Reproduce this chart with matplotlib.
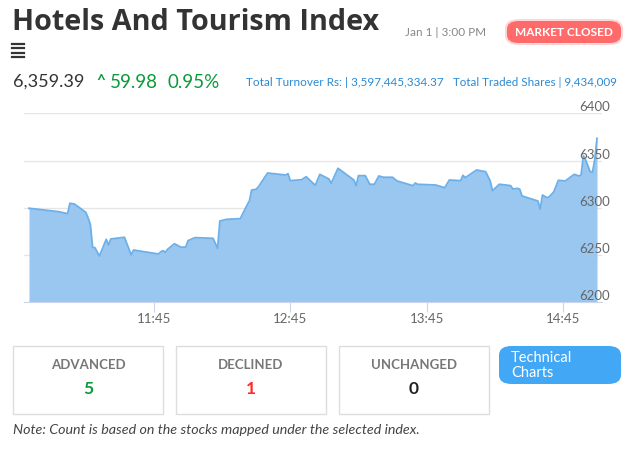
import matplotlib
matplotlib.use("Agg")
import matplotlib.pyplot as plt
import numpy as np
from matplotlib.patches import FancyBboxPatch, Rectangle
from matplotlib.lines import Line2D
import matplotlib.transforms as mtransforms

plt.rcParams['font.family'] = ['Lato', 'DejaVu Sans']

# intraday index values (time, value)
times = ["10:50", "11:03", "11:07", "11:08", "11:10", "11:15", "11:16", "11:17", "11:18",
         "11:19", "11:21", "11:24", "11:25", "11:26", "11:32", "11:35", "11:36", "11:47",
         "11:48", "11:49", "11:50", "11:51", "11:54", "11:57", "11:59", "12:00", "12:03",
         "12:11", "12:13", "12:14", "12:17", "12:23", "12:26", "12:27", "12:28", "12:30",
         "12:31", "12:35", "12:43", "12:44", "12:45", "12:50", "12:52", "12:56", "12:58",
         "13:02", "13:03", "13:06", "13:13", "13:14", "13:15", "13:18", "13:20", "13:22",
         "13:24", "13:26", "13:30", "13:32", "13:39", "13:40", "13:41", "13:49", "13:53",
         "13:55", "14:00", "14:01", "14:02", "14:07", "14:11", "14:13", "14:14", "14:17",
         "14:20", "14:22", "14:23", "14:25", "14:26", "14:27", "14:34", "14:35", "14:36",
         "14:38", "14:39", "14:41", "14:43", "14:46", "14:48", "14:50", "14:52", "14:53",
         "14:54", "14:55", "14:57", "14:58", "14:59", "15:00"]
values = [6299.5, 6295.9, 6293.8, 6304.8, 6304.0, 6295.2, 6289.5, 6282.5, 6258.2,
          6257.8, 6249.0, 6266.7, 6260.6, 6267.0, 6268.8, 6250.1, 6255.3, 6251.1,
          6253.5, 6254.6, 6252.9, 6256.1, 6262.0, 6258.2, 6258.5, 6265.2, 6268.4,
          6267.7, 6257.1, 6286.0, 6287.8, 6288.5, 6303.0, 6307.2, 6318.8, 6319.6,
          6322.3, 6336.8, 6334.7, 6336.1, 6328.7, 6329.7, 6332.9, 6323.8, 6335.4,
          6330.5, 6325.9, 6341.8, 6329.4, 6323.4, 6334.0, 6334.0, 6324.9, 6324.9,
          6333.7, 6332.3, 6332.3, 6328.4, 6323.4, 6326.2, 6324.9, 6324.1, 6321.3,
          6329.4, 6328.7, 6334.4, 6331.9, 6340.0, 6338.2, 6328.4, 6318.1, 6324.9,
          6324.1, 6323.4, 6319.9, 6320.6, 6319.6, 6312.5, 6307.2, 6298.7, 6313.5,
          6310.7, 6311.7, 6317.0, 6329.1, 6328.4, 6331.9, 6335.4, 6333.7, 6334.7,
          6355.1, 6350.6, 6338.2, 6337.6, 6350.6, 6373.5]

x_ticks = ["11:45", "12:45", "13:45", "14:45"]
y_ticks = [6200, 6250, 6300, 6350, 6400]

breadth_labels = ["ADVANCED", "DECLINED", "UNCHANGED"]
breadth_counts = [5, 1, 0]
breadth_colors = ["#0a9a3a", "#ff2b2b", "#222222"]


def to_min(s):
    h, m = s.split(":")
    return int(h) * 60 + int(m)


W, H = 632, 450


def fx(px):
    return px / W


def fy(py):
    return 1 - py / H


fig = plt.figure(figsize=(W / 100, H / 100), dpi=100)
fig.patch.set_facecolor("white")

# chart area
ax = fig.add_axes([fx(24), fy(302.3), fx(602) - fx(24), fy(113.3) - fy(302.3)])
t = np.array([to_min(s) for s in times])
v = np.array(values)
ax.fill_between(t, v, y_ticks[0], color="#99c7ef", linewidth=0)
ax.plot(t, v, color="#6db0e9", linewidth=1.3)

ax.set_xlim(t[0] - 2.2, t[-1] + 2.2)
ax.set_ylim(y_ticks[0], y_ticks[-1])
for s in ["top", "right", "left"]:
    ax.spines[s].set_visible(False)
ax.spines["bottom"].set_color("#ccd6eb")
ax.set_yticks(y_ticks)
ax.yaxis.grid(True, color="#e6e6e6", linewidth=1)
ax.tick_params(axis="y", length=0, labelleft=False)
ax.set_axisbelow(True)
ax.set_xticks([to_min(s) for s in x_ticks])
ax.set_xticklabels(x_ticks)
ax.tick_params(axis="x", length=7, color="#ccd6eb", labelsize=9.5,
               labelcolor="#666666", pad=1)

trans = mtransforms.blended_transform_factory(ax.transAxes, ax.transData)
for yv in y_ticks:
    ax.text((610 - 24) / (602 - 24), yv, str(yv), transform=trans, ha="right",
            va="bottom", fontsize=9.5, color="#666666")

# header
fig.text(fx(12), fy(22.5), "Hotels And Tourism Index", fontsize=20.7, fontweight="bold",
         color="#333333", va="center", ha="left", family=["Open Sans", "DejaVu Sans"])
for yy in [43.5, 48, 52.5, 57]:
    fig.add_artist(Line2D([fx(12), fx(24)], [fy(yy), fy(yy)], color="#333333", linewidth=1.6))
fig.text(fx(405), fy(32), "Jan 1 | 3:00 PM", fontsize=8.5, color="#888888", va="center")

glow = FancyBboxPatch((fx(505), fy(45)), fx(623) - fx(505), fy(19) - fy(45),
                      boxstyle="round,pad=0,rounding_size=0.022", transform=fig.transFigure,
                      facecolor="#ffd6d6", edgecolor="none")
fig.add_artist(glow)
badge = FancyBboxPatch((fx(507), fy(43)), fx(621) - fx(507), fy(21) - fy(43),
                       boxstyle="round,pad=0,rounding_size=0.018", transform=fig.transFigure,
                       facecolor="#ff6b6b", edgecolor="none")
fig.add_artist(badge)
fig.text(fx(564), fy(32), "MARKET CLOSED", fontsize=8.5, fontweight="bold", color="white",
         ha="center", va="center")

fig.text(fx(13), fy(82), "6,359.39", fontsize=13, color="#333333", va="center")
fig.text(fx(96), fy(81), "^", fontsize=11, fontweight="bold", color="#0a9a3a", va="center")
fig.text(fx(110), fy(82), "59.98", fontsize=13.5, color="#0a9a3a", va="center")
fig.text(fx(168), fy(82), "0.95%", fontsize=13.5, color="#0a9a3a", va="center")
fig.text(fx(246), fy(82), "Total Turnover Rs: | 3,597,445,334.37", fontsize=8.5,
         color="#2a8ad4", va="center")
fig.text(fx(453), fy(82), "Total Traded Shares | 9,434,009", fontsize=8.4,
         color="#2a8ad4", va="center")

# market breadth boxes
box_left = [13, 176, 339]
for x0, lab, cnt, col in zip(box_left, breadth_labels, breadth_counts, breadth_colors):
    fig.add_artist(Rectangle((fx(x0), fy(414)), fx(150), fy(346) - fy(414),
                             transform=fig.transFigure, facecolor="white",
                             edgecolor="#dddddd", linewidth=1))
    fig.text(fx(x0 + 75), fy(365), lab, fontsize=9.5, fontweight="bold", color="#777777",
             ha="center", va="center")
    fig.text(fx(x0 + 75), fy(389), str(cnt), fontsize=12.5, fontweight="bold", color=col,
             ha="center", va="center")

btn = FancyBboxPatch((fx(499), fy(384)), fx(621) - fx(499), fy(346) - fy(384),
                     boxstyle="round,pad=0,rounding_size=0.02", transform=fig.transFigure,
                     facecolor="#42a8f5", edgecolor="none")
fig.add_artist(btn)
fig.text(fx(511), fy(365.5), "Technical\nCharts", fontsize=10.5, color="white", va="center",
         ha="left", linespacing=1.05)

fig.text(fx(13), fy(430), "Note: Count is based on the stocks mapped under the selected index.",
         fontsize=10.3, style="italic", color="#444444", va="center")

fig.savefig("out.png", dpi=100)
